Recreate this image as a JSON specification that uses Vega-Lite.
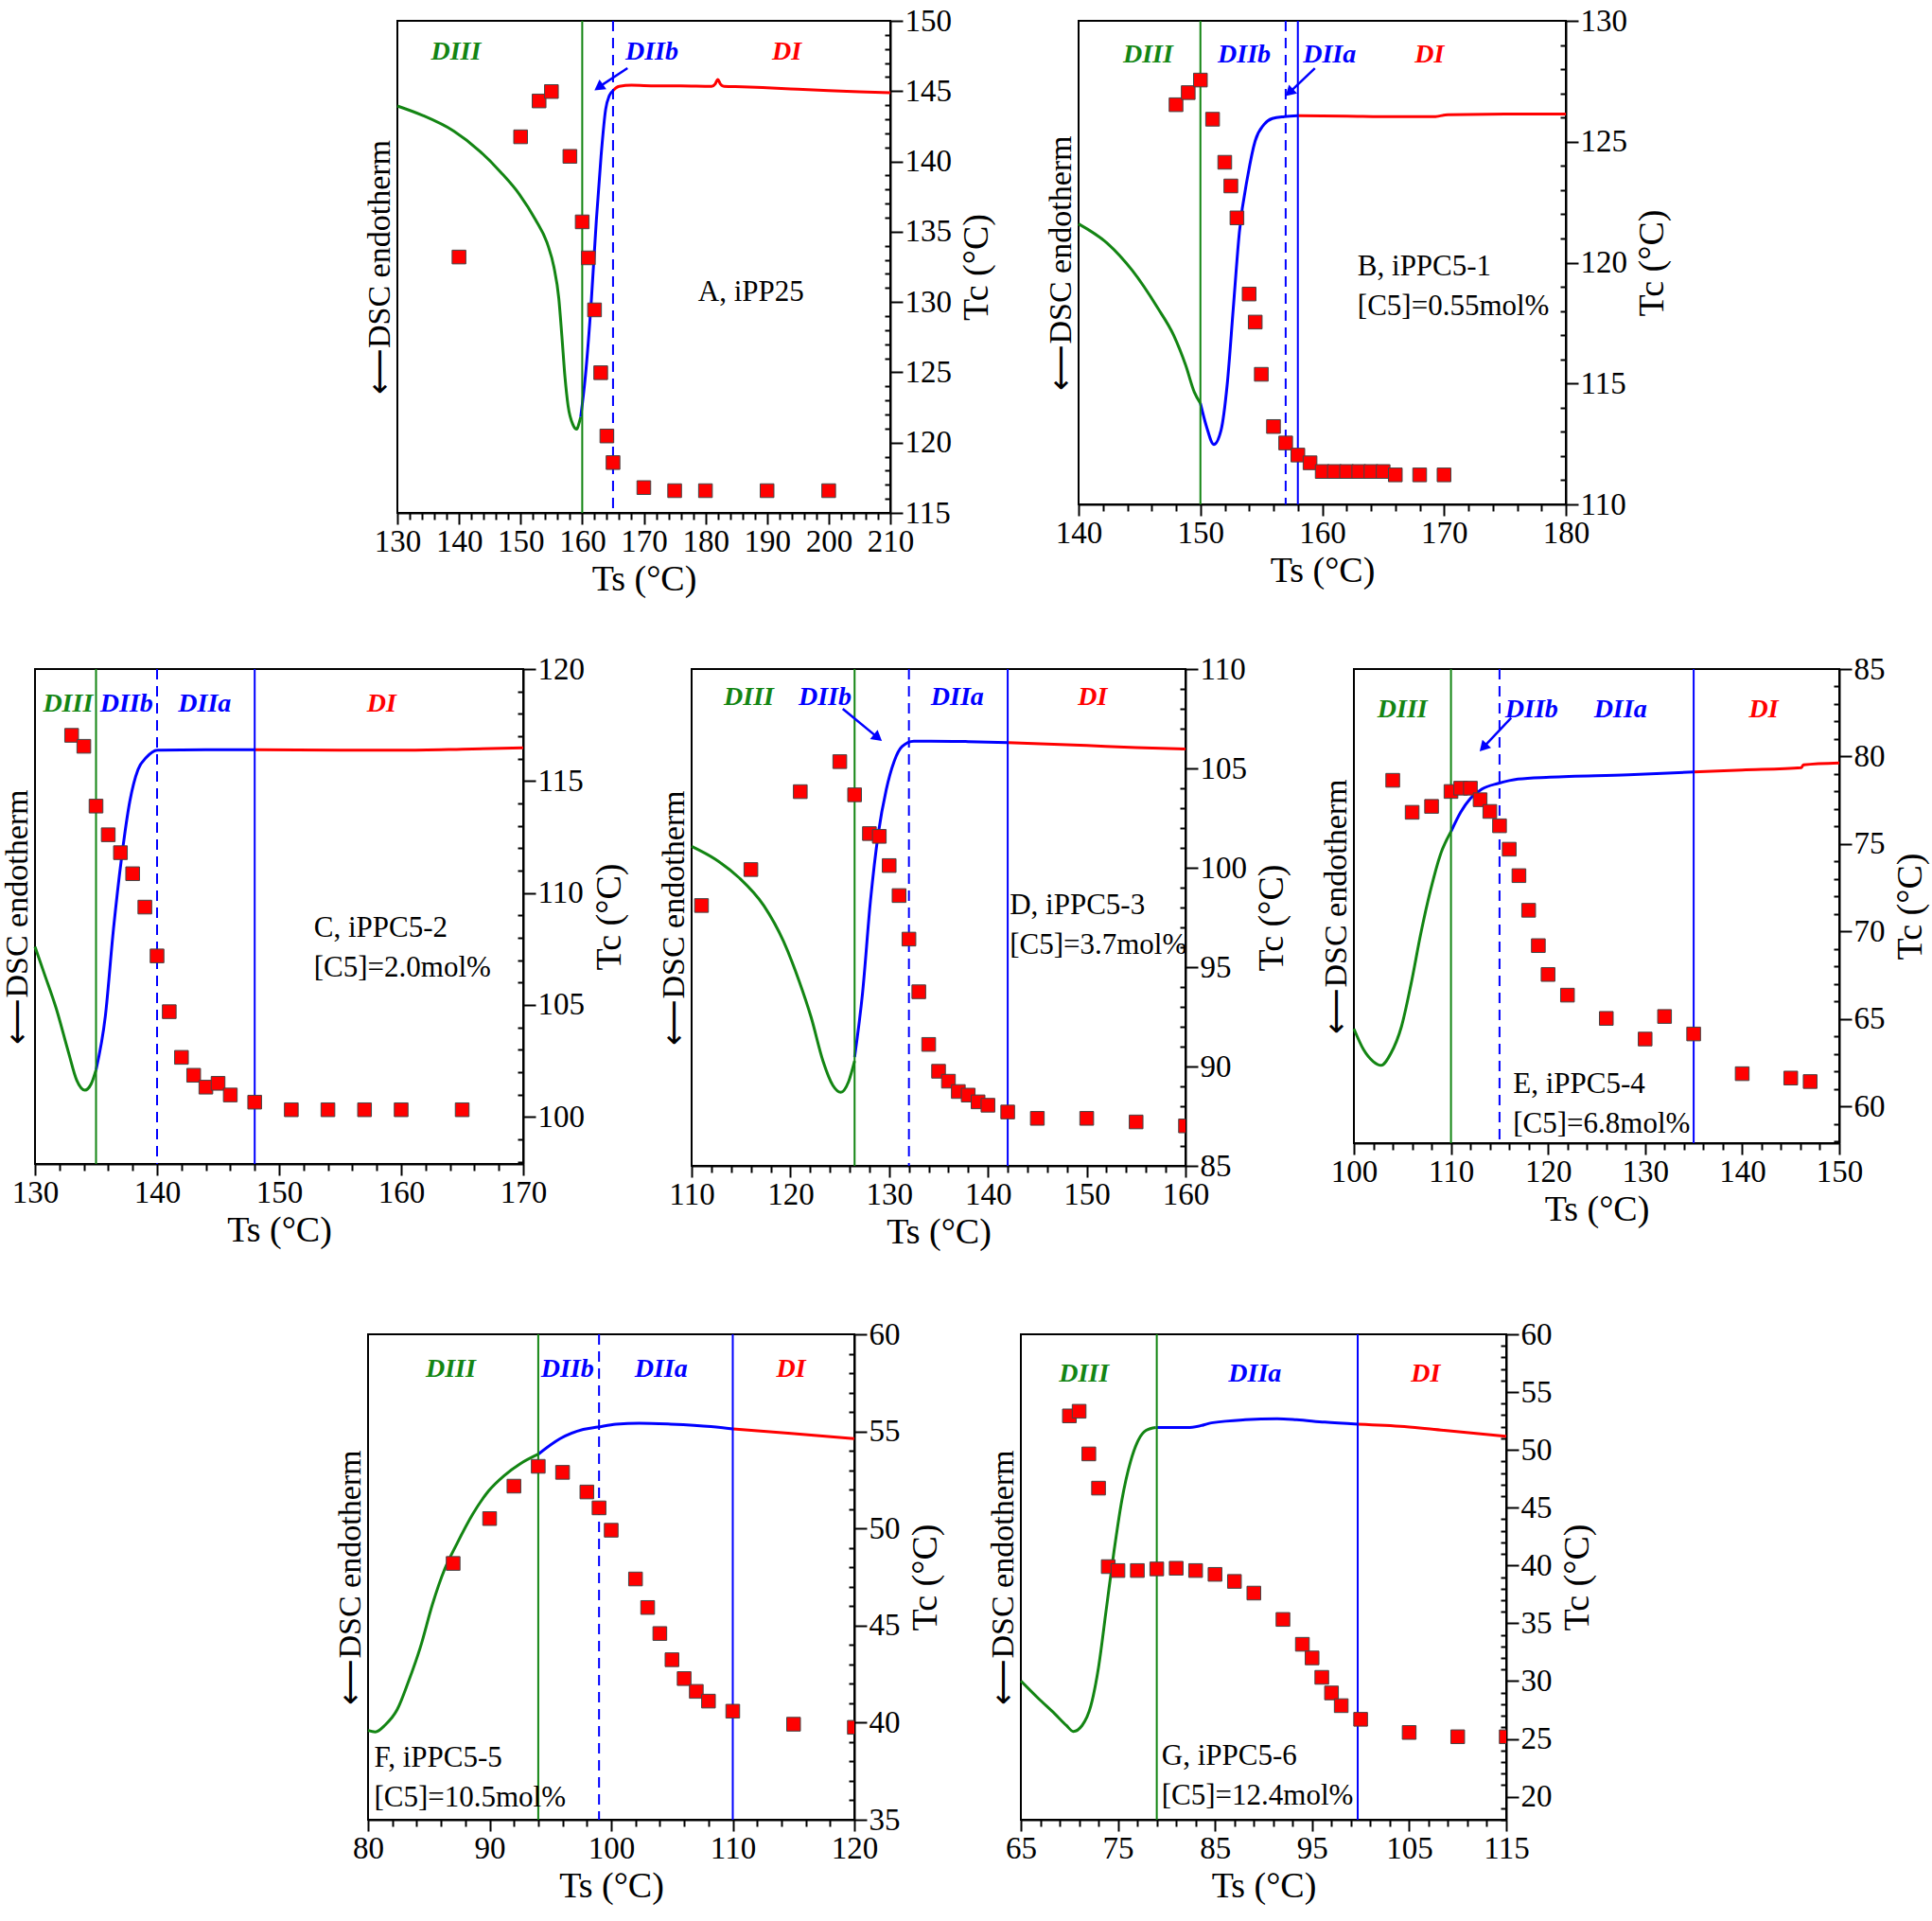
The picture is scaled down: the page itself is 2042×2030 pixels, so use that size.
{
  "$schema": "https://vega.github.io/schema/vega-lite/v6.json",
  "background": "white",
  "padding": {"left": 0, "top": 5, "right": 5, "bottom": 5},
  "datasets": {
    "A_dsc": [
      {"ts":130,"dsc":0.827,"seg":"DIII"},{"ts":134.06,"dsc":0.808,"seg":"DIII"},{"ts":139.15,"dsc":0.776,"seg":"DIII"},{"ts":143.2,"dsc":0.737,"seg":"DIII"},{"ts":146.8,"dsc":0.692,"seg":"DIII"},{"ts":149.8,"dsc":0.6475,"seg":"DIII"},{"ts":152.4,"dsc":0.596,"seg":"DIII"},{"ts":154.4,"dsc":0.545,"seg":"DIII"},{"ts":155.4,"dsc":0.5,"seg":"DIII"},{"ts":156.2,"dsc":0.436,"seg":"DIII"},{"ts":156.7,"dsc":0.359,"seg":"DIII"},{"ts":157.2,"dsc":0.276,"seg":"DIII"},{"ts":157.7,"dsc":0.218,"seg":"DIII"},{"ts":158.5,"dsc":0.179,"seg":"DIII"},{"ts":159.1,"dsc":0.17,"seg":"DIII"},{"ts":159.5,"dsc":0.183,"seg":"DIII"},{"ts":159.76,"dsc":0.195,"seg":"DIII"},
      {"ts":159.76,"dsc":0.195,"seg":"DII"},{"ts":160.5,"dsc":0.276,"seg":"DII"},{"ts":161.5,"dsc":0.436,"seg":"DII"},{"ts":162.3,"dsc":0.596,"seg":"DII"},{"ts":163.05,"dsc":0.724,"seg":"DII"},{"ts":163.8,"dsc":0.82,"seg":"DII"},{"ts":164.4,"dsc":0.848,"seg":"DII"},{"ts":165,"dsc":0.858,"seg":"DII"},
      {"ts":165,"dsc":0.858,"seg":"DI"},{"ts":165.5,"dsc":0.864,"seg":"DI"},{"ts":166,"dsc":0.867,"seg":"DI"},{"ts":168,"dsc":0.869,"seg":"DI"},{"ts":172,"dsc":0.868,"seg":"DI"},{"ts":176,"dsc":0.868,"seg":"DI"},{"ts":181,"dsc":0.867,"seg":"DI"},{"ts":181.6,"dsc":0.872,"seg":"DI"},{"ts":182,"dsc":0.881,"seg":"DI"},{"ts":182.4,"dsc":0.872,"seg":"DI"},{"ts":183,"dsc":0.867,"seg":"DI"},{"ts":186,"dsc":0.866,"seg":"DI"},{"ts":190,"dsc":0.864,"seg":"DI"},{"ts":195,"dsc":0.861,"seg":"DI"},{"ts":200,"dsc":0.858,"seg":"DI"},{"ts":205,"dsc":0.856,"seg":"DI"},{"ts":210,"dsc":0.854,"seg":"DI"}
    ],
    "A_tc": [
      {"ts":140,"tc":133.2},{"ts":150,"tc":141.75},{"ts":153,"tc":144.3},{"ts":155,"tc":144.97},{"ts":158,"tc":140.36},{"ts":160,"tc":135.7},{"ts":161,"tc":133.14},{"ts":162,"tc":129.44},{"ts":163,"tc":124.97},{"ts":164,"tc":120.47},{"ts":165,"tc":118.58},{"ts":170,"tc":116.8},{"ts":175,"tc":116.58},{"ts":180,"tc":116.58},{"ts":190,"tc":116.58},{"ts":200,"tc":116.58}
    ],
    "A_bounds": [{"ts":160,"bound":"end DIII"},{"ts":165,"bound":"end DIIb"}],
    "A_labels": [{"ts":139.5,"f":0.936,"label":"DIII"},{"ts":171.3,"f":0.936,"label":"DIIb"},{"ts":193.2,"f":0.936,"label":"DI"}],
    "A_note": [{"ts":178.8,"f":0.449,"note":"A, iPP25"}],
    "A_arrow": [{"ts":167.35,"f":0.904,"ts2":162.9,"f2":0.867}],
    "A_head": [{"ts":162.9,"f":0.867}],

    "B_dsc": [
      {"ts":140,"dsc":0.58,"seg":"DIII"},{"ts":142.4,"dsc":0.539,"seg":"DIII"},{"ts":144.4,"dsc":0.484,"seg":"DIII"},{"ts":146.5,"dsc":0.406,"seg":"DIII"},{"ts":147.8,"dsc":0.35,"seg":"DIII"},{"ts":148.8,"dsc":0.287,"seg":"DIII"},{"ts":149.5,"dsc":0.232,"seg":"DIII"},{"ts":150,"dsc":0.209,"seg":"DIII"},
      {"ts":150,"dsc":0.209,"seg":"DII"},{"ts":150.5,"dsc":0.161,"seg":"DII"},{"ts":151.1,"dsc":0.124,"seg":"DII"},{"ts":151.7,"dsc":0.154,"seg":"DII"},{"ts":152.2,"dsc":0.248,"seg":"DII"},{"ts":152.7,"dsc":0.406,"seg":"DII"},{"ts":153.2,"dsc":0.563,"seg":"DII"},{"ts":153.9,"dsc":0.681,"seg":"DII"},{"ts":154.5,"dsc":0.752,"seg":"DII"},{"ts":155.2,"dsc":0.785,"seg":"DII"},{"ts":155.9,"dsc":0.798,"seg":"DII"},{"ts":156.9,"dsc":0.802,"seg":"DII"},{"ts":158,"dsc":0.804,"seg":"DII"},
      {"ts":158,"dsc":0.804,"seg":"DI"},{"ts":162,"dsc":0.803,"seg":"DI"},{"ts":166,"dsc":0.802,"seg":"DI"},{"ts":169.3,"dsc":0.802,"seg":"DI"},{"ts":170.3,"dsc":0.806,"seg":"DI"},{"ts":175,"dsc":0.807,"seg":"DI"},{"ts":180,"dsc":0.807,"seg":"DI"}
    ],
    "B_tc": [
      {"ts":148,"tc":126.53},{"ts":149,"tc":127.03},{"ts":150,"tc":127.55},{"ts":151,"tc":125.93},{"ts":152,"tc":124.15},{"ts":152.5,"tc":123.17},{"ts":153,"tc":121.85},{"ts":154,"tc":118.7},{"ts":154.5,"tc":117.54},{"ts":155,"tc":115.38},{"ts":156,"tc":113.22},{"ts":157,"tc":112.54},{"ts":158,"tc":112.04},{"ts":159,"tc":111.72},{"ts":160,"tc":111.36},{"ts":161,"tc":111.36},{"ts":162,"tc":111.36},{"ts":163,"tc":111.36},{"ts":164,"tc":111.36},{"ts":165,"tc":111.36},{"ts":166,"tc":111.22},{"ts":168,"tc":111.22},{"ts":170,"tc":111.22}
    ],
    "B_bounds": [{"ts":150,"bound":"end DIII"},{"ts":157,"bound":"end DIIb"},{"ts":158,"bound":"end DIIa"}],
    "B_labels": [{"ts":145.7,"f":0.929,"label":"DIII"},{"ts":153.6,"f":0.929,"label":"DIIb"},{"ts":160.6,"f":0.929,"label":"DIIa"},{"ts":168.8,"f":0.929,"label":"DI"}],
    "B_note": [{"ts":162.9,"f":0.492,"note":"B, iPPC5-1\n[C5]=0.55mol%"}],
    "B_arrow": [{"ts":159.4,"f":0.902,"ts2":157.4,"f2":0.854}],
    "B_head": [{"ts":157.4,"f":0.854}],

    "C_dsc": [
      {"ts":130,"dsc":0.439,"seg":"DIII"},{"ts":130.74,"dsc":0.386,"seg":"DIII"},{"ts":131.74,"dsc":0.314,"seg":"DIII"},{"ts":132.75,"dsc":0.225,"seg":"DIII"},{"ts":133.42,"dsc":0.169,"seg":"DIII"},{"ts":134.09,"dsc":0.149,"seg":"DIII"},{"ts":134.59,"dsc":0.161,"seg":"DIII"},{"ts":135,"dsc":0.19,"seg":"DIII"},
      {"ts":135,"dsc":0.19,"seg":"DII"},{"ts":135.76,"dsc":0.298,"seg":"DII"},{"ts":136.43,"dsc":0.475,"seg":"DII"},{"ts":137.1,"dsc":0.62,"seg":"DII"},{"ts":137.77,"dsc":0.733,"seg":"DII"},{"ts":138.44,"dsc":0.797,"seg":"DII"},{"ts":139.11,"dsc":0.821,"seg":"DII"},{"ts":140.02,"dsc":0.836,"seg":"DII"},{"ts":144,"dsc":0.837,"seg":"DII"},{"ts":148,"dsc":0.837,"seg":"DII"},
      {"ts":148,"dsc":0.837,"seg":"DI"},{"ts":155,"dsc":0.836,"seg":"DI"},{"ts":160,"dsc":0.836,"seg":"DI"},{"ts":165,"dsc":0.838,"seg":"DI"},{"ts":170,"dsc":0.841,"seg":"DI"}
    ],
    "C_tc": [
      {"ts":133,"tc":117.04},{"ts":134,"tc":116.55},{"ts":135,"tc":113.88},{"ts":136,"tc":112.6},{"ts":137,"tc":111.8},{"ts":138,"tc":110.86},{"ts":139,"tc":109.37},{"ts":140,"tc":107.19},{"ts":141,"tc":104.7},{"ts":142,"tc":102.66},{"ts":143,"tc":101.86},{"ts":144,"tc":101.33},{"ts":145,"tc":101.5},{"ts":146,"tc":100.98},{"ts":148,"tc":100.66},{"ts":151,"tc":100.32},{"ts":154,"tc":100.32},{"ts":157,"tc":100.32},{"ts":160,"tc":100.32},{"ts":165,"tc":100.32}
    ],
    "C_bounds": [{"ts":135,"bound":"end DIII"},{"ts":140,"bound":"end DIIb"},{"ts":148,"bound":"end DIIa"}],
    "C_labels": [{"ts":132.7,"f":0.93,"label":"DIII"},{"ts":137.5,"f":0.93,"label":"DIIb"},{"ts":143.9,"f":0.93,"label":"DIIa"},{"ts":158.4,"f":0.93,"label":"DI"}],
    "C_note": [{"ts":152.85,"f":0.477,"note":"C, iPPC5-2\n[C5]=2.0mol%"}],

    "D_dsc": [
      {"ts":110,"dsc":0.643,"seg":"DIII"},{"ts":112.4,"dsc":0.617,"seg":"DIII"},{"ts":114.8,"dsc":0.58,"seg":"DIII"},{"ts":117.3,"dsc":0.524,"seg":"DIII"},{"ts":119.3,"dsc":0.452,"seg":"DIII"},{"ts":120.9,"dsc":0.371,"seg":"DIII"},{"ts":122.1,"dsc":0.299,"seg":"DIII"},{"ts":123.3,"dsc":0.211,"seg":"DIII"},{"ts":124.3,"dsc":0.162,"seg":"DIII"},{"ts":125.1,"dsc":0.148,"seg":"DIII"},{"ts":125.9,"dsc":0.17,"seg":"DIII"},{"ts":126.5,"dsc":0.211,"seg":"DIII"},
      {"ts":126.5,"dsc":0.219,"seg":"DII"},{"ts":127.3,"dsc":0.347,"seg":"DII"},{"ts":128.1,"dsc":0.532,"seg":"DII"},{"ts":128.9,"dsc":0.669,"seg":"DII"},{"ts":129.7,"dsc":0.757,"seg":"DII"},{"ts":130.5,"dsc":0.814,"seg":"DII"},{"ts":131.3,"dsc":0.844,"seg":"DII"},{"ts":132.5,"dsc":0.855,"seg":"DII"},{"ts":134.2,"dsc":0.855,"seg":"DII"},{"ts":138,"dsc":0.854,"seg":"DII"},{"ts":142,"dsc":0.852,"seg":"DII"},
      {"ts":142,"dsc":0.852,"seg":"DI"},{"ts":150,"dsc":0.846,"seg":"DI"},{"ts":155,"dsc":0.842,"seg":"DI"},{"ts":160,"dsc":0.839,"seg":"DI"}
    ],
    "D_tc": [
      {"ts":111,"tc":98.1},{"ts":116,"tc":99.91},{"ts":121,"tc":103.83},{"ts":125,"tc":105.34},{"ts":126.5,"tc":103.67},{"ts":128,"tc":101.72},{"ts":129,"tc":101.58},{"ts":130,"tc":100.11},{"ts":131,"tc":98.6},{"ts":132,"tc":96.41},{"ts":133,"tc":93.76},{"ts":134,"tc":91.11},{"ts":135,"tc":89.76},{"ts":136,"tc":89.26},{"ts":137,"tc":88.74},{"ts":138,"tc":88.56},{"ts":139,"tc":88.22},{"ts":140,"tc":88.05},{"ts":142,"tc":87.71},{"ts":145,"tc":87.39},{"ts":150,"tc":87.39},{"ts":155,"tc":87.21},{"ts":160,"tc":87.01}
    ],
    "D_bounds": [{"ts":126.5,"bound":"end DIII"},{"ts":132,"bound":"end DIIb"},{"ts":142,"bound":"end DIIa"}],
    "D_labels": [{"ts":115.8,"f":0.942,"label":"DIII"},{"ts":123.5,"f":0.942,"label":"DIIb"},{"ts":136.9,"f":0.942,"label":"DIIa"},{"ts":150.6,"f":0.942,"label":"DI"}],
    "D_note": [{"ts":142.2,"f":0.524,"note":"D, iPPC5-3\n[C5]=3.7mol%"}],
    "D_arrow": [{"ts":125.3,"f":0.92,"ts2":128.72,"f2":0.864}],
    "D_head": [{"ts":128.72,"f":0.864}],

    "E_dsc": [
      {"ts":100,"dsc":0.241,"seg":"DIII"},{"ts":101,"dsc":0.197,"seg":"DIII"},{"ts":102,"dsc":0.172,"seg":"DIII"},{"ts":102.8,"dsc":0.164,"seg":"DIII"},{"ts":103.8,"dsc":0.189,"seg":"DIII"},{"ts":104.9,"dsc":0.246,"seg":"DIII"},{"ts":105.9,"dsc":0.337,"seg":"DIII"},{"ts":106.9,"dsc":0.443,"seg":"DIII"},{"ts":107.9,"dsc":0.534,"seg":"DIII"},{"ts":108.9,"dsc":0.608,"seg":"DIII"},{"ts":110,"dsc":0.657,"seg":"DIII"},
      {"ts":110,"dsc":0.657,"seg":"DII"},{"ts":111,"dsc":0.698,"seg":"DII"},{"ts":112,"dsc":0.727,"seg":"DII"},{"ts":113.2,"dsc":0.747,"seg":"DII"},{"ts":114.9,"dsc":0.759,"seg":"DII"},{"ts":116.9,"dsc":0.768,"seg":"DII"},{"ts":120.2,"dsc":0.772,"seg":"DII"},{"ts":128.3,"dsc":0.777,"seg":"DII"},{"ts":135,"dsc":0.783,"seg":"DII"},
      {"ts":135,"dsc":0.783,"seg":"DI"},{"ts":140,"dsc":0.787,"seg":"DI"},{"ts":146.1,"dsc":0.792,"seg":"DI"},{"ts":146.3,"dsc":0.798,"seg":"DI"},{"ts":150,"dsc":0.802,"seg":"DI"}
    ],
    "E_tc": [
      {"ts":104,"tc":78.64},{"ts":106,"tc":76.81},{"ts":108,"tc":77.15},{"ts":110,"tc":78.0},{"ts":111,"tc":78.19},{"ts":112,"tc":78.19},{"ts":113,"tc":77.53},{"ts":114,"tc":76.86},{"ts":115,"tc":76.04},{"ts":116,"tc":74.7},{"ts":117,"tc":73.19},{"ts":118,"tc":71.21},{"ts":119,"tc":69.19},{"ts":120,"tc":67.54},{"ts":122,"tc":66.36},{"ts":126,"tc":65.03},{"ts":130,"tc":63.85},{"ts":132,"tc":65.14},{"ts":135,"tc":64.14},{"ts":140,"tc":61.87},{"ts":145,"tc":61.62},{"ts":147,"tc":61.42}
    ],
    "E_bounds": [{"ts":110,"bound":"end DIII"},{"ts":115,"bound":"end DIIb"},{"ts":135,"bound":"end DIIa"}],
    "E_labels": [{"ts":105,"f":0.915,"label":"DIII"},{"ts":118.3,"f":0.915,"label":"DIIb"},{"ts":127.45,"f":0.915,"label":"DIIa"},{"ts":142.2,"f":0.915,"label":"DI"}],
    "E_note": [{"ts":116.4,"f":0.123,"note":"E, iPPC5-4\n[C5]=6.8mol%"}],
    "E_arrow": [{"ts":116.2,"f":0.897,"ts2":113.44,"f2":0.837}],
    "E_head": [{"ts":113.44,"f":0.837}],

    "F_dsc": [
      {"ts":80,"dsc":0.184,"seg":"DIII"},{"ts":80.6,"dsc":0.181,"seg":"DIII"},{"ts":81.4,"dsc":0.195,"seg":"DIII"},{"ts":82.4,"dsc":0.227,"seg":"DIII"},{"ts":83.3,"dsc":0.283,"seg":"DIII"},{"ts":84.3,"dsc":0.355,"seg":"DIII"},{"ts":85.3,"dsc":0.444,"seg":"DIII"},{"ts":86.3,"dsc":0.516,"seg":"DIII"},{"ts":87.3,"dsc":0.568,"seg":"DIII"},{"ts":88.6,"dsc":0.629,"seg":"DIII"},{"ts":89.9,"dsc":0.677,"seg":"DIII"},{"ts":91.2,"dsc":0.709,"seg":"DIII"},{"ts":92.5,"dsc":0.733,"seg":"DIII"},{"ts":94,"dsc":0.753,"seg":"DIII"},
      {"ts":94,"dsc":0.753,"seg":"DII"},{"ts":95.8,"dsc":0.785,"seg":"DII"},{"ts":97.7,"dsc":0.804,"seg":"DII"},{"ts":98.9,"dsc":0.809,"seg":"DII"},{"ts":100.4,"dsc":0.815,"seg":"DII"},{"ts":102.3,"dsc":0.817,"seg":"DII"},{"ts":104.9,"dsc":0.815,"seg":"DII"},{"ts":108.2,"dsc":0.81,"seg":"DII"},{"ts":110,"dsc":0.805,"seg":"DII"},
      {"ts":110,"dsc":0.805,"seg":"DI"},{"ts":114.8,"dsc":0.796,"seg":"DI"},{"ts":120,"dsc":0.785,"seg":"DI"}
    ],
    "F_tc": [
      {"ts":87,"tc":48.2},{"ts":90,"tc":50.51},{"ts":92,"tc":52.18},{"ts":94,"tc":53.2},{"ts":96,"tc":52.89},{"ts":98,"tc":51.88},{"ts":99,"tc":51.06},{"ts":100,"tc":49.91},{"ts":102,"tc":47.4},{"ts":103,"tc":45.93},{"ts":104,"tc":44.59},{"ts":105,"tc":43.24},{"ts":106,"tc":42.27},{"ts":107,"tc":41.61},{"ts":108,"tc":41.11},{"ts":110,"tc":40.59},{"ts":115,"tc":39.92},{"ts":120,"tc":39.76}
    ],
    "F_bounds": [{"ts":94,"bound":"end DIII"},{"ts":99,"bound":"end DIIb"},{"ts":110,"bound":"end DIIa"}],
    "F_labels": [{"ts":86.8,"f":0.928,"label":"DIII"},{"ts":96.4,"f":0.928,"label":"DIIb"},{"ts":104.1,"f":0.928,"label":"DIIa"},{"ts":114.8,"f":0.928,"label":"DI"}],
    "F_note": [{"ts":80.5,"f":0.126,"note":"F, iPPC5-5\n[C5]=10.5mol%"}],

    "G_dsc": [
      {"ts":65,"dsc":0.286,"seg":"DIII"},{"ts":66.8,"dsc":0.25,"seg":"DIII"},{"ts":68.5,"dsc":0.218,"seg":"DIII"},{"ts":69.7,"dsc":0.194,"seg":"DIII"},{"ts":70.4,"dsc":0.182,"seg":"DIII"},{"ts":71.3,"dsc":0.194,"seg":"DIII"},{"ts":72.2,"dsc":0.234,"seg":"DIII"},{"ts":73,"dsc":0.314,"seg":"DIII"},{"ts":73.8,"dsc":0.434,"seg":"DIII"},{"ts":74.6,"dsc":0.554,"seg":"DIII"},{"ts":75.4,"dsc":0.658,"seg":"DIII"},{"ts":76.3,"dsc":0.738,"seg":"DIII"},{"ts":77.1,"dsc":0.782,"seg":"DIII"},{"ts":77.9,"dsc":0.802,"seg":"DIII"},{"ts":78.9,"dsc":0.808,"seg":"DIII"},
      {"ts":78.9,"dsc":0.808,"seg":"DII"},{"ts":82.4,"dsc":0.808,"seg":"DII"},{"ts":84.8,"dsc":0.818,"seg":"DII"},{"ts":88.1,"dsc":0.824,"seg":"DII"},{"ts":91.4,"dsc":0.826,"seg":"DII"},{"ts":93.4,"dsc":0.824,"seg":"DII"},{"ts":96.3,"dsc":0.819,"seg":"DII"},{"ts":99.7,"dsc":0.815,"seg":"DII"},
      {"ts":99.7,"dsc":0.815,"seg":"DI"},{"ts":104.5,"dsc":0.81,"seg":"DI"},{"ts":108.6,"dsc":0.802,"seg":"DI"},{"ts":115,"dsc":0.79,"seg":"DI"}
    ],
    "G_tc": [
      {"ts":70,"tc":52.94},{"ts":71,"tc":53.34},{"ts":72,"tc":49.65},{"ts":73,"tc":46.69},{"ts":74,"tc":39.9},{"ts":75,"tc":39.56},{"ts":77,"tc":39.56},{"ts":79,"tc":39.7},{"ts":81,"tc":39.76},{"ts":83,"tc":39.56},{"ts":85,"tc":39.23},{"ts":87,"tc":38.62},{"ts":89,"tc":37.61},{"ts":92,"tc":35.33},{"ts":94,"tc":33.18},{"ts":95,"tc":32.0},{"ts":96,"tc":30.32},{"ts":97,"tc":28.97},{"ts":98,"tc":27.87},{"ts":100,"tc":26.69},{"ts":105,"tc":25.55},{"ts":110,"tc":25.18},{"ts":115,"tc":25.18}
    ],
    "G_bounds": [{"ts":79,"bound":"end DIII"},{"ts":99.7,"bound":"end DIIa"}],
    "G_labels": [{"ts":71.5,"f":0.918,"label":"DIII"},{"ts":89.1,"f":0.918,"label":"DIIa"},{"ts":106.7,"f":0.918,"label":"DI"}],
    "G_note": [{"ts":79.5,"f":0.13,"note":"G, iPPC5-6\n[C5]=12.4mol%"}]
  },
  "vconcat": [
    {
      "spacing": 50,
      "hconcat": [
        {"width": 296, "height": 10, "view": {"stroke": null}, "data": {"values": []}, "mark": "point", "encoding": {}},
        {
          "width": 521, "height": 520,
          "encoding": {"x": {"field": "ts", "type": "quantitative", "title": "Ts (°C)", "scale": {"domain": [130, 210], "nice": false, "zero": false},
            "axis": {"values": [130,132,134,136,138,140,142,144,146,148,150,152,154,156,158,160,162,164,166,168,170,172,174,176,178,180,182,184,186,188,190,192,194,196,198,200,202,204,206,208,210], "labelExpr": "datum.value % 10 === 0 ? datum.label : ''", "tickSize": {"condition": {"test": "datum.value % 10 === 0", "value": 12}, "value": 7}, "titlePadding": 4}}},
          "layer": [
            {"data": {"name": "A_dsc"}, "mark": {"type": "line", "strokeWidth": 3, "interpolate": "monotone"}, "encoding": {"y": {"field": "dsc", "type": "quantitative", "scale": {"domain": [0, 1]}, "axis": {"orient": "left", "title": "⟵DSC endotherm", "ticks": false, "labels": false, "domain": false, "titleFontSize": 34, "titlePadding": 2}}, "color": {"field": "seg", "type": "nominal", "scale": {"domain": ["DIII", "DII", "DI"], "range": ["#138513", "#0000ff", "#ff0000"]}, "legend": null}}},
            {"data": {"name": "A_bounds"}, "mark": {"type": "rule", "strokeWidth": 2}, "encoding": {"color": {"field": "bound", "type": "nominal", "scale": {"domain": ["end DIII", "end DIIb", "end DIIa"], "range": ["#138513", "#0000ff", "#0000ff"]}, "legend": null}, "strokeDash": {"field": "bound", "type": "nominal", "scale": {"domain": ["end DIII", "end DIIb", "end DIIa"], "range": [[1, 0], [11, 7], [1, 0]]}, "legend": null}}},
            {"data": {"name": "A_arrow"}, "mark": {"type": "rule", "strokeWidth": 2.5, "color": "#0000ff"}, "encoding": {"x2": {"field": "ts2"}, "y": {"field": "f", "type": "quantitative", "scale": {"domain": [0, 1]}, "axis": null}, "y2": {"field": "f2"}}},
            {"data": {"name": "A_head"}, "mark": {"type": "point", "shape": "triangle", "size": 160, "filled": true, "opacity": 1, "color": "#0000ff", "angle": 234.7}, "encoding": {"y": {"field": "f", "type": "quantitative", "scale": {"domain": [0, 1]}, "axis": null}}},
            {"data": {"name": "A_tc"}, "mark": {"type": "point", "shape": "square", "size": 210, "filled": true, "opacity": 1, "fill": "#ff0000", "stroke": "#444444", "strokeWidth": 1, "clip": true}, "encoding": {"y": {"field": "tc", "type": "quantitative", "title": "Tc (°C)", "scale": {"domain": [115, 150], "nice": false, "zero": false}, "axis": {"orient": "right", "values": [115,116,117,118,119,120,121,122,123,124,125,126,127,128,129,130,131,132,133,134,135,136,137,138,139,140,141,142,143,144,145,146,147,148,149,150], "labelExpr": "datum.value % 5 === 0 ? datum.label : ''", "tickSize": {"condition": {"test": "datum.value % 5 === 0", "value": 13}, "value": -6}, "titleAngle": 270, "titleBaseline": "top", "titlePadding": 8}}}},
            {"data": {"name": "A_labels"}, "mark": {"type": "text", "fontSize": 28, "fontWeight": "bold", "fontStyle": "italic"}, "encoding": {"y": {"field": "f", "type": "quantitative", "scale": {"domain": [0, 1]}, "axis": null}, "text": {"field": "label"}, "color": {"field": "label", "type": "nominal", "scale": {"domain": ["DIII", "DIIb", "DIIa", "DI"], "range": ["#138513", "#0000ff", "#0000ff", "#ff0000"]}, "legend": null}}},
            {"data": {"name": "A_note"}, "mark": {"type": "text", "fontSize": 31, "align": "left", "lineBreak": "\n", "lineHeight": 42, "color": "black"}, "encoding": {"y": {"field": "f", "type": "quantitative", "scale": {"domain": [0, 1]}, "axis": null}, "text": {"field": "note"}}}
          ],
          "resolve": {"scale": {"y": "independent", "color": "independent"}}
        },
        {
          "width": 515, "height": 511,
          "encoding": {"x": {"field": "ts", "type": "quantitative", "title": "Ts (°C)", "scale": {"domain": [140, 180], "nice": false, "zero": false},
            "axis": {"values": [140,142,144,146,148,150,152,154,156,158,160,162,164,166,168,170,172,174,176,178,180], "labelExpr": "datum.value % 10 === 0 ? datum.label : ''", "tickSize": {"condition": {"test": "datum.value % 10 === 0", "value": 12}, "value": 7}, "titlePadding": 4}}},
          "layer": [
            {"data": {"name": "B_dsc"}, "mark": {"type": "line", "strokeWidth": 3, "interpolate": "monotone"}, "encoding": {"y": {"field": "dsc", "type": "quantitative", "scale": {"domain": [0, 1]}, "axis": {"orient": "left", "title": "⟵DSC endotherm", "ticks": false, "labels": false, "domain": false, "titleFontSize": 34, "titlePadding": 2}}, "color": {"field": "seg", "type": "nominal", "scale": {"domain": ["DIII", "DII", "DI"], "range": ["#138513", "#0000ff", "#ff0000"]}, "legend": null}}},
            {"data": {"name": "B_bounds"}, "mark": {"type": "rule", "strokeWidth": 2}, "encoding": {"color": {"field": "bound", "type": "nominal", "scale": {"domain": ["end DIII", "end DIIb", "end DIIa"], "range": ["#138513", "#0000ff", "#0000ff"]}, "legend": null}, "strokeDash": {"field": "bound", "type": "nominal", "scale": {"domain": ["end DIII", "end DIIb", "end DIIa"], "range": [[1, 0], [11, 7], [1, 0]]}, "legend": null}}},
            {"data": {"name": "B_arrow"}, "mark": {"type": "rule", "strokeWidth": 2.5, "color": "#0000ff"}, "encoding": {"x2": {"field": "ts2"}, "y": {"field": "f", "type": "quantitative", "scale": {"domain": [0, 1]}, "axis": null}, "y2": {"field": "f2"}}},
            {"data": {"name": "B_head"}, "mark": {"type": "point", "shape": "triangle", "size": 160, "filled": true, "opacity": 1, "color": "#0000ff", "angle": 226.7}, "encoding": {"y": {"field": "f", "type": "quantitative", "scale": {"domain": [0, 1]}, "axis": null}}},
            {"data": {"name": "B_tc"}, "mark": {"type": "point", "shape": "square", "size": 210, "filled": true, "opacity": 1, "fill": "#ff0000", "stroke": "#444444", "strokeWidth": 1, "clip": true}, "encoding": {"y": {"field": "tc", "type": "quantitative", "title": "Tc (°C)", "scale": {"domain": [110, 130], "nice": false, "zero": false}, "axis": {"orient": "right", "values": [110,111,112,113,114,115,116,117,118,119,120,121,122,123,124,125,126,127,128,129,130], "labelExpr": "datum.value % 5 === 0 ? datum.label : ''", "tickSize": {"condition": {"test": "datum.value % 5 === 0", "value": 13}, "value": -6}, "titleAngle": 270, "titleBaseline": "top", "titlePadding": 8}}}},
            {"data": {"name": "B_labels"}, "mark": {"type": "text", "fontSize": 28, "fontWeight": "bold", "fontStyle": "italic"}, "encoding": {"y": {"field": "f", "type": "quantitative", "scale": {"domain": [0, 1]}, "axis": null}, "text": {"field": "label"}, "color": {"field": "label", "type": "nominal", "scale": {"domain": ["DIII", "DIIb", "DIIa", "DI"], "range": ["#138513", "#0000ff", "#0000ff", "#ff0000"]}, "legend": null}}},
            {"data": {"name": "B_note"}, "mark": {"type": "text", "fontSize": 31, "align": "left", "lineBreak": "\n", "lineHeight": 42, "color": "black"}, "encoding": {"y": {"field": "f", "type": "quantitative", "scale": {"domain": [0, 1]}, "axis": null}, "text": {"field": "note"}}}
          ],
          "resolve": {"scale": {"y": "independent", "color": "independent"}}
        }
      ]
    },
    {
      "spacing": 71,
      "vconcat": [
        {
          "spacing": 29,
          "hconcat": [
            {
              "width": 516, "height": 523,
              "encoding": {"x": {"field": "ts", "type": "quantitative", "title": "Ts (°C)", "scale": {"domain": [130, 170], "nice": false, "zero": false},
                "axis": {"values": [130,132,134,136,138,140,142,144,146,148,150,152,154,156,158,160,162,164,166,168,170], "labelExpr": "datum.value % 10 === 0 ? datum.label : ''", "tickSize": {"condition": {"test": "datum.value % 10 === 0", "value": 12}, "value": 7}, "titlePadding": 4}}},
              "layer": [
                {"data": {"name": "C_dsc"}, "mark": {"type": "line", "strokeWidth": 3, "interpolate": "monotone"}, "encoding": {"y": {"field": "dsc", "type": "quantitative", "scale": {"domain": [0, 1]}, "axis": {"orient": "left", "title": "⟵DSC endotherm", "ticks": false, "labels": false, "domain": false, "titleFontSize": 34, "titlePadding": 2}}, "color": {"field": "seg", "type": "nominal", "scale": {"domain": ["DIII", "DII", "DI"], "range": ["#138513", "#0000ff", "#ff0000"]}, "legend": null}}},
                {"data": {"name": "C_bounds"}, "mark": {"type": "rule", "strokeWidth": 2}, "encoding": {"color": {"field": "bound", "type": "nominal", "scale": {"domain": ["end DIII", "end DIIb", "end DIIa"], "range": ["#138513", "#0000ff", "#0000ff"]}, "legend": null}, "strokeDash": {"field": "bound", "type": "nominal", "scale": {"domain": ["end DIII", "end DIIb", "end DIIa"], "range": [[1, 0], [11, 7], [1, 0]]}, "legend": null}}},
                {"data": {"name": "C_tc"}, "mark": {"type": "point", "shape": "square", "size": 210, "filled": true, "opacity": 1, "fill": "#ff0000", "stroke": "#444444", "strokeWidth": 1, "clip": true}, "encoding": {"y": {"field": "tc", "type": "quantitative", "title": "Tc (°C)", "scale": {"domain": [97.9, 120], "nice": false, "zero": false}, "axis": {"orient": "right", "values": [98,99,100,101,102,103,104,105,106,107,108,109,110,111,112,113,114,115,116,117,118,119,120], "labelExpr": "datum.value % 5 === 0 ? datum.label : ''", "tickSize": {"condition": {"test": "datum.value % 5 === 0", "value": 13}, "value": -6}, "titleAngle": 270, "titleBaseline": "top", "titlePadding": 8}}}},
                {"data": {"name": "C_labels"}, "mark": {"type": "text", "fontSize": 28, "fontWeight": "bold", "fontStyle": "italic"}, "encoding": {"y": {"field": "f", "type": "quantitative", "scale": {"domain": [0, 1]}, "axis": null}, "text": {"field": "label"}, "color": {"field": "label", "type": "nominal", "scale": {"domain": ["DIII", "DIIb", "DIIa", "DI"], "range": ["#138513", "#0000ff", "#0000ff", "#ff0000"]}, "legend": null}}},
                {"data": {"name": "C_note"}, "mark": {"type": "text", "fontSize": 31, "align": "left", "lineBreak": "\n", "lineHeight": 42, "color": "black"}, "encoding": {"y": {"field": "f", "type": "quantitative", "scale": {"domain": [0, 1]}, "axis": null}, "text": {"field": "note"}}}
              ],
              "resolve": {"scale": {"y": "independent", "color": "independent"}}
            },
            {
              "width": 522, "height": 525,
              "encoding": {"x": {"field": "ts", "type": "quantitative", "title": "Ts (°C)", "scale": {"domain": [110, 160], "nice": false, "zero": false},
                "axis": {"values": [110,112,114,116,118,120,122,124,126,128,130,132,134,136,138,140,142,144,146,148,150,152,154,156,158,160], "labelExpr": "datum.value % 10 === 0 ? datum.label : ''", "tickSize": {"condition": {"test": "datum.value % 10 === 0", "value": 12}, "value": 7}, "titlePadding": 4}}},
              "layer": [
                {"data": {"name": "D_dsc"}, "mark": {"type": "line", "strokeWidth": 3, "interpolate": "monotone"}, "encoding": {"y": {"field": "dsc", "type": "quantitative", "scale": {"domain": [0, 1]}, "axis": {"orient": "left", "title": "⟵DSC endotherm", "ticks": false, "labels": false, "domain": false, "titleFontSize": 34, "titlePadding": 2}}, "color": {"field": "seg", "type": "nominal", "scale": {"domain": ["DIII", "DII", "DI"], "range": ["#138513", "#0000ff", "#ff0000"]}, "legend": null}}},
                {"data": {"name": "D_bounds"}, "mark": {"type": "rule", "strokeWidth": 2}, "encoding": {"color": {"field": "bound", "type": "nominal", "scale": {"domain": ["end DIII", "end DIIb", "end DIIa"], "range": ["#138513", "#0000ff", "#0000ff"]}, "legend": null}, "strokeDash": {"field": "bound", "type": "nominal", "scale": {"domain": ["end DIII", "end DIIb", "end DIIa"], "range": [[1, 0], [11, 7], [1, 0]]}, "legend": null}}},
                {"data": {"name": "D_arrow"}, "mark": {"type": "rule", "strokeWidth": 2.5, "color": "#0000ff"}, "encoding": {"x2": {"field": "ts2"}, "y": {"field": "f", "type": "quantitative", "scale": {"domain": [0, 1]}, "axis": null}, "y2": {"field": "f2"}}},
                {"data": {"name": "D_head"}, "mark": {"type": "point", "shape": "triangle", "size": 160, "filled": true, "opacity": 1, "color": "#0000ff", "angle": 129}, "encoding": {"y": {"field": "f", "type": "quantitative", "scale": {"domain": [0, 1]}, "axis": null}}},
                {"data": {"name": "D_tc"}, "mark": {"type": "point", "shape": "square", "size": 210, "filled": true, "opacity": 1, "fill": "#ff0000", "stroke": "#444444", "strokeWidth": 1, "clip": true}, "encoding": {"y": {"field": "tc", "type": "quantitative", "title": "Tc (°C)", "scale": {"domain": [85, 110], "nice": false, "zero": false}, "axis": {"orient": "right", "values": [85,86,87,88,89,90,91,92,93,94,95,96,97,98,99,100,101,102,103,104,105,106,107,108,109,110], "labelExpr": "datum.value % 5 === 0 ? datum.label : ''", "tickSize": {"condition": {"test": "datum.value % 5 === 0", "value": 13}, "value": -6}, "titleAngle": 270, "titleBaseline": "top", "titlePadding": 8}}}},
                {"data": {"name": "D_labels"}, "mark": {"type": "text", "fontSize": 28, "fontWeight": "bold", "fontStyle": "italic"}, "encoding": {"y": {"field": "f", "type": "quantitative", "scale": {"domain": [0, 1]}, "axis": null}, "text": {"field": "label"}, "color": {"field": "label", "type": "nominal", "scale": {"domain": ["DIII", "DIIb", "DIIa", "DI"], "range": ["#138513", "#0000ff", "#0000ff", "#ff0000"]}, "legend": null}}},
                {"data": {"name": "D_note"}, "mark": {"type": "text", "fontSize": 31, "align": "left", "lineBreak": "\n", "lineHeight": 42, "color": "black"}, "encoding": {"y": {"field": "f", "type": "quantitative", "scale": {"domain": [0, 1]}, "axis": null}, "text": {"field": "note"}}}
              ],
              "resolve": {"scale": {"y": "independent", "color": "independent"}}
            },
            {
              "width": 513, "height": 501,
              "encoding": {"x": {"field": "ts", "type": "quantitative", "title": "Ts (°C)", "scale": {"domain": [100, 150], "nice": false, "zero": false},
                "axis": {"values": [100,102,104,106,108,110,112,114,116,118,120,122,124,126,128,130,132,134,136,138,140,142,144,146,148,150], "labelExpr": "datum.value % 10 === 0 ? datum.label : ''", "tickSize": {"condition": {"test": "datum.value % 10 === 0", "value": 12}, "value": 7}, "titlePadding": 4}}},
              "layer": [
                {"data": {"name": "E_dsc"}, "mark": {"type": "line", "strokeWidth": 3, "interpolate": "monotone"}, "encoding": {"y": {"field": "dsc", "type": "quantitative", "scale": {"domain": [0, 1]}, "axis": {"orient": "left", "title": "⟵DSC endotherm", "ticks": false, "labels": false, "domain": false, "titleFontSize": 34, "titlePadding": 2}}, "color": {"field": "seg", "type": "nominal", "scale": {"domain": ["DIII", "DII", "DI"], "range": ["#138513", "#0000ff", "#ff0000"]}, "legend": null}}},
                {"data": {"name": "E_bounds"}, "mark": {"type": "rule", "strokeWidth": 2}, "encoding": {"color": {"field": "bound", "type": "nominal", "scale": {"domain": ["end DIII", "end DIIb", "end DIIa"], "range": ["#138513", "#0000ff", "#0000ff"]}, "legend": null}, "strokeDash": {"field": "bound", "type": "nominal", "scale": {"domain": ["end DIII", "end DIIb", "end DIIa"], "range": [[1, 0], [11, 7], [1, 0]]}, "legend": null}}},
                {"data": {"name": "E_arrow"}, "mark": {"type": "rule", "strokeWidth": 2.5, "color": "#0000ff"}, "encoding": {"x2": {"field": "ts2"}, "y": {"field": "f", "type": "quantitative", "scale": {"domain": [0, 1]}, "axis": null}, "y2": {"field": "f2"}}},
                {"data": {"name": "E_head"}, "mark": {"type": "point", "shape": "triangle", "size": 160, "filled": true, "opacity": 1, "color": "#0000ff", "angle": 223.3}, "encoding": {"y": {"field": "f", "type": "quantitative", "scale": {"domain": [0, 1]}, "axis": null}}},
                {"data": {"name": "E_tc"}, "mark": {"type": "point", "shape": "square", "size": 210, "filled": true, "opacity": 1, "fill": "#ff0000", "stroke": "#444444", "strokeWidth": 1, "clip": true}, "encoding": {"y": {"field": "tc", "type": "quantitative", "title": "Tc (°C)", "scale": {"domain": [57.9, 85], "nice": false, "zero": false}, "axis": {"orient": "right", "values": [58,59,60,61,62,63,64,65,66,67,68,69,70,71,72,73,74,75,76,77,78,79,80,81,82,83,84,85], "labelExpr": "datum.value % 5 === 0 ? datum.label : ''", "tickSize": {"condition": {"test": "datum.value % 5 === 0", "value": 13}, "value": -6}, "titleAngle": 270, "titleBaseline": "top", "titlePadding": 8}}}},
                {"data": {"name": "E_labels"}, "mark": {"type": "text", "fontSize": 28, "fontWeight": "bold", "fontStyle": "italic"}, "encoding": {"y": {"field": "f", "type": "quantitative", "scale": {"domain": [0, 1]}, "axis": null}, "text": {"field": "label"}, "color": {"field": "label", "type": "nominal", "scale": {"domain": ["DIII", "DIIb", "DIIa", "DI"], "range": ["#138513", "#0000ff", "#0000ff", "#ff0000"]}, "legend": null}}},
                {"data": {"name": "E_note"}, "mark": {"type": "text", "fontSize": 31, "align": "left", "lineBreak": "\n", "lineHeight": 42, "color": "black"}, "encoding": {"y": {"field": "f", "type": "quantitative", "scale": {"domain": [0, 1]}, "axis": null}, "text": {"field": "note"}}}
              ],
              "resolve": {"scale": {"y": "independent", "color": "independent"}}
            }
          ]
        },
        {
          "spacing": 44,
          "hconcat": [
            {"width": 271, "height": 10, "view": {"stroke": null}, "data": {"values": []}, "mark": "point", "encoding": {}},
            {
              "width": 514, "height": 513,
              "encoding": {"x": {"field": "ts", "type": "quantitative", "title": "Ts (°C)", "scale": {"domain": [80, 120], "nice": false, "zero": false},
                "axis": {"values": [80,82,84,86,88,90,92,94,96,98,100,102,104,106,108,110,112,114,116,118,120], "labelExpr": "datum.value % 10 === 0 ? datum.label : ''", "tickSize": {"condition": {"test": "datum.value % 10 === 0", "value": 12}, "value": 7}, "titlePadding": 4}}},
              "layer": [
                {"data": {"name": "F_dsc"}, "mark": {"type": "line", "strokeWidth": 3, "interpolate": "monotone"}, "encoding": {"y": {"field": "dsc", "type": "quantitative", "scale": {"domain": [0, 1]}, "axis": {"orient": "left", "title": "⟵DSC endotherm", "ticks": false, "labels": false, "domain": false, "titleFontSize": 34, "titlePadding": 2}}, "color": {"field": "seg", "type": "nominal", "scale": {"domain": ["DIII", "DII", "DI"], "range": ["#138513", "#0000ff", "#ff0000"]}, "legend": null}}},
                {"data": {"name": "F_bounds"}, "mark": {"type": "rule", "strokeWidth": 2}, "encoding": {"color": {"field": "bound", "type": "nominal", "scale": {"domain": ["end DIII", "end DIIb", "end DIIa"], "range": ["#138513", "#0000ff", "#0000ff"]}, "legend": null}, "strokeDash": {"field": "bound", "type": "nominal", "scale": {"domain": ["end DIII", "end DIIb", "end DIIa"], "range": [[1, 0], [11, 7], [1, 0]]}, "legend": null}}},
                {"data": {"name": "F_tc"}, "mark": {"type": "point", "shape": "square", "size": 210, "filled": true, "opacity": 1, "fill": "#ff0000", "stroke": "#444444", "strokeWidth": 1, "clip": true}, "encoding": {"y": {"field": "tc", "type": "quantitative", "title": "Tc (°C)", "scale": {"domain": [35, 60], "nice": false, "zero": false}, "axis": {"orient": "right", "values": [35,36,37,38,39,40,41,42,43,44,45,46,47,48,49,50,51,52,53,54,55,56,57,58,59,60], "labelExpr": "datum.value % 5 === 0 ? datum.label : ''", "tickSize": {"condition": {"test": "datum.value % 5 === 0", "value": 13}, "value": -6}, "titleAngle": 270, "titleBaseline": "top", "titlePadding": 8}}}},
                {"data": {"name": "F_labels"}, "mark": {"type": "text", "fontSize": 28, "fontWeight": "bold", "fontStyle": "italic"}, "encoding": {"y": {"field": "f", "type": "quantitative", "scale": {"domain": [0, 1]}, "axis": null}, "text": {"field": "label"}, "color": {"field": "label", "type": "nominal", "scale": {"domain": ["DIII", "DIIb", "DIIa", "DI"], "range": ["#138513", "#0000ff", "#0000ff", "#ff0000"]}, "legend": null}}},
                {"data": {"name": "F_note"}, "mark": {"type": "text", "fontSize": 31, "align": "left", "lineBreak": "\n", "lineHeight": 42, "color": "black"}, "encoding": {"y": {"field": "f", "type": "quantitative", "scale": {"domain": [0, 1]}, "axis": null}, "text": {"field": "note"}}}
              ],
              "resolve": {"scale": {"y": "independent", "color": "independent"}}
            },
            {
              "width": 513, "height": 513,
              "encoding": {"x": {"field": "ts", "type": "quantitative", "title": "Ts (°C)", "scale": {"domain": [65, 115], "nice": false, "zero": false},
                "axis": {"values": [65,67,69,71,73,75,77,79,81,83,85,87,89,91,93,95,97,99,101,103,105,107,109,111,113,115], "labelExpr": "(datum.value - 65) % 10 === 0 ? datum.label : ''", "tickSize": {"condition": {"test": "(datum.value - 65) % 10 === 0", "value": 12}, "value": 7}, "titlePadding": 4}}},
              "layer": [
                {"data": {"name": "G_dsc"}, "mark": {"type": "line", "strokeWidth": 3, "interpolate": "monotone"}, "encoding": {"y": {"field": "dsc", "type": "quantitative", "scale": {"domain": [0, 1]}, "axis": {"orient": "left", "title": "⟵DSC endotherm", "ticks": false, "labels": false, "domain": false, "titleFontSize": 34, "titlePadding": 2}}, "color": {"field": "seg", "type": "nominal", "scale": {"domain": ["DIII", "DII", "DI"], "range": ["#138513", "#0000ff", "#ff0000"]}, "legend": null}}},
                {"data": {"name": "G_bounds"}, "mark": {"type": "rule", "strokeWidth": 2}, "encoding": {"color": {"field": "bound", "type": "nominal", "scale": {"domain": ["end DIII", "end DIIb", "end DIIa"], "range": ["#138513", "#0000ff", "#0000ff"]}, "legend": null}, "strokeDash": {"field": "bound", "type": "nominal", "scale": {"domain": ["end DIII", "end DIIb", "end DIIa"], "range": [[1, 0], [11, 7], [1, 0]]}, "legend": null}}},
                {"data": {"name": "G_tc"}, "mark": {"type": "point", "shape": "square", "size": 210, "filled": true, "opacity": 1, "fill": "#ff0000", "stroke": "#444444", "strokeWidth": 1, "clip": true}, "encoding": {"y": {"field": "tc", "type": "quantitative", "title": "Tc (°C)", "scale": {"domain": [18, 60], "nice": false, "zero": false}, "axis": {"orient": "right", "values": [18,19,20,21,22,23,24,25,26,27,28,29,30,31,32,33,34,35,36,37,38,39,40,41,42,43,44,45,46,47,48,49,50,51,52,53,54,55,56,57,58,59,60], "labelExpr": "datum.value % 5 === 0 ? datum.label : ''", "tickSize": {"condition": {"test": "datum.value % 5 === 0", "value": 13}, "value": -6}, "titleAngle": 270, "titleBaseline": "top", "titlePadding": 8}}}},
                {"data": {"name": "G_labels"}, "mark": {"type": "text", "fontSize": 28, "fontWeight": "bold", "fontStyle": "italic"}, "encoding": {"y": {"field": "f", "type": "quantitative", "scale": {"domain": [0, 1]}, "axis": null}, "text": {"field": "label"}, "color": {"field": "label", "type": "nominal", "scale": {"domain": ["DIII", "DIIb", "DIIa", "DI"], "range": ["#138513", "#0000ff", "#0000ff", "#ff0000"]}, "legend": null}}},
                {"data": {"name": "G_note"}, "mark": {"type": "text", "fontSize": 31, "align": "left", "lineBreak": "\n", "lineHeight": 42, "color": "black"}, "encoding": {"y": {"field": "f", "type": "quantitative", "scale": {"domain": [0, 1]}, "axis": null}, "text": {"field": "note"}}}
              ],
              "resolve": {"scale": {"y": "independent", "color": "independent"}}
            }
          ]
        }
      ]
    }
  ],
  "spacing": 58,
  "config": {
    "font": "Liberation Serif",
    "view": {"stroke": "black", "strokeWidth": 2},
    "axis": {"grid": false, "labelFont": "Liberation Serif", "titleFont": "Liberation Serif", "labelFontSize": 33, "titleFontSize": 38, "titleFontWeight": "normal", "labelColor": "black", "titleColor": "black", "domainColor": "black", "domainWidth": 2, "tickColor": "black", "tickWidth": 2, "labelPadding": 2, "labelOverlap": false, "labelFlush": false, "labelBound": false},
    "text": {"font": "Liberation Serif"}
  }
}
